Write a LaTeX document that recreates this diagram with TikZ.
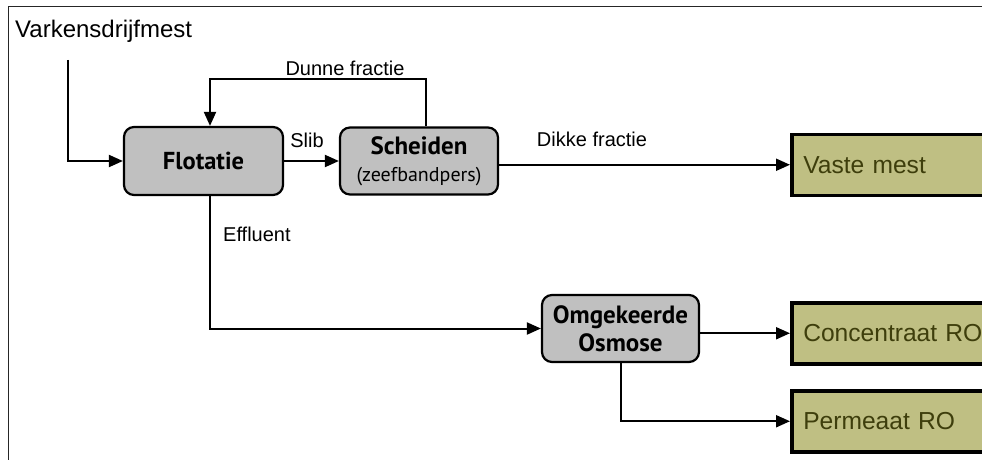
\documentclass[tikz,border=0pt]{standalone}
\usepackage{fontspec}
\setmainfont{Liberation Sans}
\newfontfamily\boxfont{PT Sans}
\usetikzlibrary{arrows.meta,positioning}
\definecolor{boxgray}{RGB}{192,192,192}
\definecolor{olivefill}{RGB}{191,191,131}
\definecolor{olivetext}{RGB}{62,62,12}
\tikzset{
  procbox/.style={draw=black, line width=2.2pt, fill=boxgray, rounded corners=10pt,
    align=center, inner sep=0pt, font=\boxfont\bfseries\fontsize{24.5}{28}\selectfont},
  outbox/.style={draw=black, line width=3.5pt, fill=olivefill, text=olivetext,
    anchor=north west, minimum height=61pt, text width=240pt, inner xsep=11.5pt,
    align=left, font=\fontsize{24.6}{30}\selectfont},
  conn/.style={line width=2pt, -{Triangle[length=14pt,width=12pt]}},
  lbl/.style={font=\fontsize{20}{24}\selectfont, inner sep=0pt},
  frameline/.style={draw=black!85, line width=1.3pt}
}
\begin{document}
\begin{tikzpicture}[x=1pt,y=-1pt]
\useasboundingbox (0,0) rectangle (982,460);
\draw[frameline] (8.5,470) -- (8.5,6.5) -- (995,6.5);

\node[lbl, anchor=west, font=\fontsize{24}{27}\selectfont] (vark) at (15,31) {Varkensdrijfmest};

\node[procbox, minimum width=159pt, minimum height=68pt] (flot) at (203.5,161) {Flotatie};
\node[procbox, minimum width=158pt, minimum height=67pt, font=\boxfont\bfseries\fontsize{25}{27}\selectfont] (sch) at (419,161)
  {Scheiden\\{\mdseries\fontsize{20}{27}\selectfont(zeefbandpers)}};
\node[procbox, minimum width=157pt, minimum height=67pt, font=\boxfont\bfseries\fontsize{25}{28}\selectfont] (osm) at (620.5,328.5)
  {Omgekeerde\\Osmose};

\node[outbox] (vaste) at (790,132.5) {Vaste mest};
\node[outbox] (conc) at (790,301) {Concentraat RO};
\node[outbox] (perm) at (790,389) {Permeaat RO};

\coordinate (in) at (68,60);
\coordinate (dtop) at (426,79);
\coordinate (dleft) at (210,79);

\draw[conn] (in) |- (flot.west);
\draw[conn] (sch.north -| dtop) -- (dtop) -- (dleft) -- (flot.north -| dleft);
\draw[conn] (flot.east) -- (sch.west);
\draw[conn] (sch.east |- vaste.west) -- (vaste.west);
\draw[conn] (flot.south -| dleft) |- (osm.west);
\draw[conn] (osm.east |- conc.west) -- (conc.west);
\draw[conn] (osm.south) |- (perm.west);

\node[lbl] (dunne) at (345,68) {Dunne fractie};
\node[lbl] (slib) at (307,140) {Slib};
\node[lbl] (dikke) at (592,139) {Dikke fractie};
\node[lbl, anchor=west] (eff) at (223,234) {Effluent};
\end{tikzpicture}
\end{document}
